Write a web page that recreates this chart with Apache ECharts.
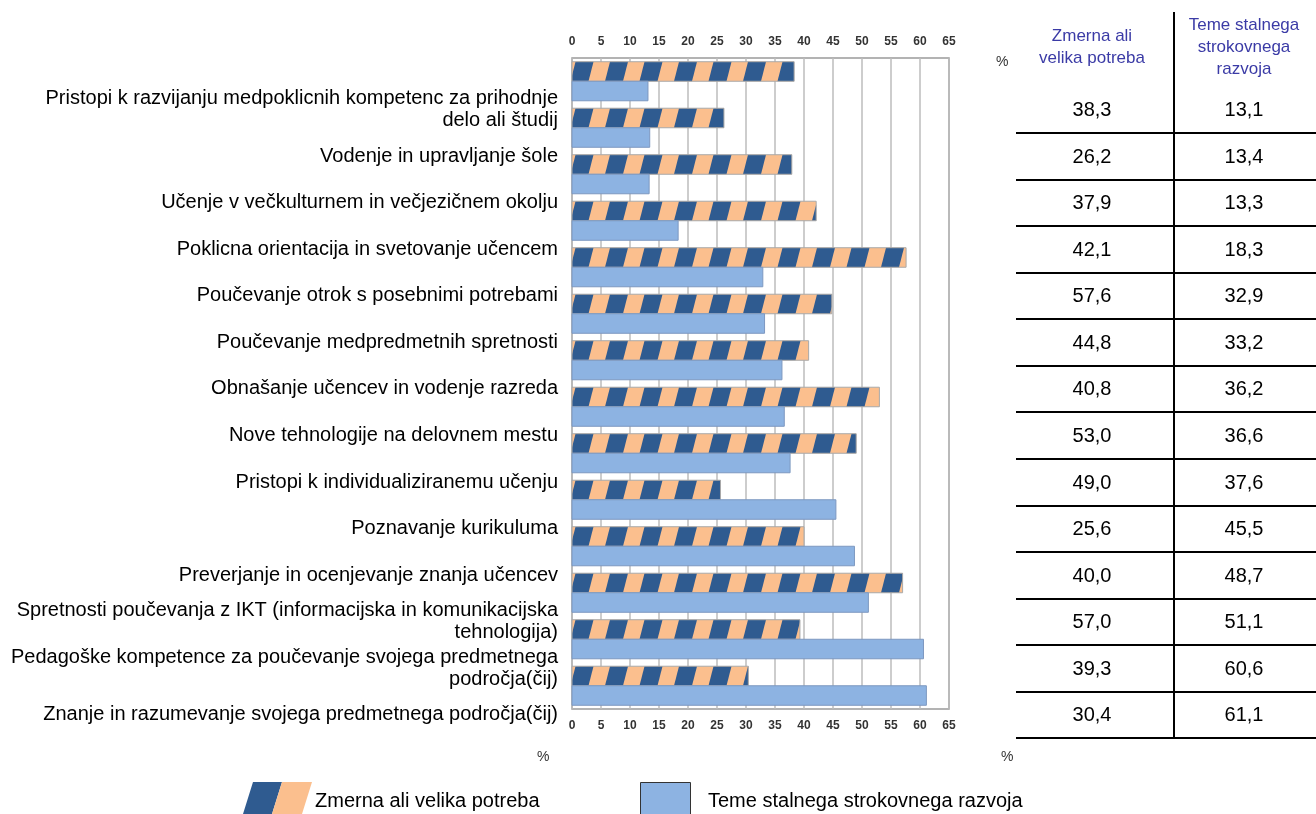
<!DOCTYPE html>
<html><head><meta charset="utf-8">
<script src="https://cdn.jsdelivr.net/npm/echarts@6/dist/echarts.min.js"></script>
<style>html,body{margin:0;padding:0;background:#fff}#c{width:1316px;height:814px}</style>
</head><body><div id="c"></div>
<script>
const categories = [
  'Pristopi k razvijanju medpoklicnih kompetenc za prihodnje\ndelo ali študij',
  'Vodenje in upravljanje šole',
  'Učenje v večkulturnem in večjezičnem okolju',
  'Poklicna orientacija in svetovanje učencem',
  'Poučevanje otrok s posebnimi potrebami',
  'Poučevanje medpredmetnih spretnosti',
  'Obnašanje učencev in vodenje razreda',
  'Nove tehnologije na delovnem mestu',
  'Pristopi k individualiziranemu učenju',
  'Poznavanje kurikuluma',
  'Preverjanje in ocenjevanje znanja učencev',
  'Spretnosti poučevanja z IKT (informacijska in komunikacijska\ntehnologija)',
  'Pedagoške kompetence za poučevanje svojega predmetnega\npodročja(čij)',
  'Znanje in razumevanje svojega predmetnega področja(čij)'
];
const needValues  = [38.3, 26.2, 37.9, 42.1, 57.6, 44.8, 40.8, 53.0, 49.0, 25.6, 40.0, 57.0, 39.3, 30.4];
const topicValues = [13.1, 13.4, 13.3, 18.3, 32.9, 33.2, 36.2, 36.6, 37.6, 45.5, 48.7, 51.1, 60.6, 61.1];
const seriesNames = ['Zmerna ali velika potreba', 'Teme stalnega strokovnega razvoja'];
const tableHeaders = ['Zmerna ali\nvelika potreba', 'Teme stalnega\nstrokovnega\nrazvoja'];
const axisMin = 0, axisMax = 65, axisStep = 5;
const unitLabel = '%';

const FONT = '"Liberation Sans", Arial, sans-serif';
const DARK = '#2f5b90', PEACH = '#fbbf8e', BLUE = '#8db3e2';

function fmt(v) { return v.toFixed(1).replace('.', ','); }

function clipX(pts, xe, keepGreater) {
  const out = [];
  for (let k = 0; k < pts.length; k++) {
    const a = pts[k], b = pts[(k + 1) % pts.length];
    const ina = keepGreater ? a[0] >= xe : a[0] <= xe;
    const inb = keepGreater ? b[0] >= xe : b[0] <= xe;
    if (ina) out.push(a);
    if (ina !== inb) {
      const t = (xe - a[0]) / (b[0] - a[0]);
      out.push([xe, a[1] + t * (b[1] - a[1])]);
    }
  }
  return out;
}

function renderNeed(params, api) {
  const v = api.value(0), i = api.value(1);
  const p0 = api.coord([0, i]), p1 = api.coord([v, i]);
  const band = api.size([0, 1])[1];
  const h = band * 0.42;
  const yb = p0[1], yt = p0[1] - h;
  const x0 = p0[0], x1 = p1[0];
  const children = [{ type: 'rect', shape: { x: x0, y: yt, width: x1 - x0, height: h }, style: { fill: PEACH } }];
  const P = 34.5, W = 18, S = 5;
  for (let bx = x0 - 1.5; bx < x1; bx += P) {
    let pts = [[bx, yb], [bx + W, yb], [bx + W + S, yt], [bx + S, yt]];
    pts = clipX(pts, x0, true); if (pts.length < 3) continue;
    pts = clipX(pts, x1, false); if (pts.length < 3) continue;
    children.push({ type: 'polygon', shape: { points: pts }, style: { fill: DARK } });
  }
  children.push({ type: 'rect', shape: { x: x0, y: yt, width: x1 - x0, height: h }, style: { fill: 'none', stroke: '#a9a9a9', lineWidth: 1 } });
  return { type: 'group', children };
}

function renderTopic(params, api) {
  const v = api.value(0), i = api.value(1);
  const p0 = api.coord([0, i]), p1 = api.coord([v, i]);
  const band = api.size([0, 1])[1];
  const h = band * 0.42;
  return { type: 'rect', shape: { x: p0[0], y: p0[1], width: p1[0] - p0[0], height: h },
           style: { fill: BLUE, stroke: '#7d98c0', lineWidth: 1 } };
}

function renderCell(params, api) {
  const c = api.coord([api.value(0), api.value(1)]);
  return { type: 'text', x: c[0], y: c[1] + 1,
           style: { text: fmt(api.value(2)), fill: '#000', fontSize: 20, fontFamily: FONT, align: 'center', verticalAlign: 'middle' } };
}

const valueAxisBase = {
  gridIndex: 0, type: 'value', min: axisMin, max: axisMax, interval: axisStep,
  axisLine: { show: false }, axisTick: { show: false },
  axisLabel: { fontWeight: 'bold', fontSize: 12, color: '#333', fontFamily: FONT }
};

const chart = echarts.init(document.getElementById('c'));
chart.setOption({
  animation: false,
  backgroundColor: '#fff',
  textStyle: { fontFamily: FONT },
  grid: [
    { left: 572, top: 58, width: 377, height: 651, show: true, borderColor: '#9a9a9a', borderWidth: 1.5, outerBoundsMode: 'none' },
    { left: 1016, top: 86.5, width: 304, height: 651.5, outerBoundsMode: 'none' }
  ],
  xAxis: [
    Object.assign({}, valueAxisBase, { position: 'top',
      axisLabel: Object.assign({}, valueAxisBase.axisLabel, { margin: 10 }),
      splitLine: { show: true, lineStyle: { color: '#bdbdbd', width: 1.5 } } }),
    Object.assign({}, valueAxisBase, { position: 'bottom',
      axisLabel: Object.assign({}, valueAxisBase.axisLabel, { margin: 11 }),
      splitLine: { show: false } }),
    { gridIndex: 1, type: 'category', position: 'top', data: tableHeaders,
      axisLine: { show: false }, axisTick: { show: false }, splitLine: { show: false },
      axisLabel: { interval: 0, color: '#3b3ba6', fontSize: 17, lineHeight: 22, verticalAlign: 'middle', margin: 39, fontFamily: FONT } }
  ],
  yAxis: [
    { gridIndex: 0, type: 'category', inverse: true, data: categories,
      axisLine: { show: false }, axisTick: { show: false }, axisLabel: { show: false }, splitLine: { show: false } },
    { gridIndex: 1, type: 'category', inverse: true, data: categories,
      axisLine: { show: false }, axisTick: { show: false },
      axisLabel: { interval: 0, margin: 458, fontSize: 20, lineHeight: 22, color: '#000', align: 'right', fontFamily: FONT },
      splitLine: { show: true, interval: function (idx) { return idx > 0; }, lineStyle: { color: '#000', width: 2 } } }
  ],
  series: [
    { type: 'custom', name: seriesNames[0], xAxisIndex: 0, yAxisIndex: 0, renderItem: renderNeed,
      encode: { x: 0, y: 1 }, data: needValues.map((v, i) => [v, i]), itemStyle: { color: DARK }, silent: true },
    { type: 'custom', name: seriesNames[1], xAxisIndex: 0, yAxisIndex: 0, renderItem: renderTopic,
      encode: { x: 0, y: 1 }, data: topicValues.map((v, i) => [v, i]), itemStyle: { color: BLUE }, silent: true },
    { type: 'custom', xAxisIndex: 2, yAxisIndex: 1, renderItem: renderCell, silent: true,
      encode: { x: 0, y: 1 }, data: needValues.map((v, i) => [0, i, v]) },
    { type: 'custom', xAxisIndex: 2, yAxisIndex: 1, renderItem: renderCell, silent: true,
      encode: { x: 0, y: 1 }, data: topicValues.map((v, i) => [1, i, v]) }
  ],
  graphic: [
    { type: 'line', shape: { x1: 1174, y1: 12, x2: 1174, y2: 738 }, style: { stroke: '#000', lineWidth: 2 } },
    { type: 'text', left: 996, top: 55, style: { text: unitLabel, fontSize: 14, fill: '#333', fontFamily: FONT } },
    { type: 'text', left: 537, top: 750, style: { text: unitLabel, fontSize: 14, fill: '#333', fontFamily: FONT } },
    { type: 'text', left: 1001, top: 750, style: { text: unitLabel, fontSize: 14, fill: '#333', fontFamily: FONT } },
    { type: 'polygon', shape: { points: [[243, 814], [272, 814], [282, 782], [253, 782]] }, style: { fill: DARK } },
    { type: 'polygon', shape: { points: [[272, 814], [302, 814], [312, 782], [282, 782]] }, style: { fill: PEACH } },
    { type: 'text', left: 315, top: 791, style: { text: seriesNames[0], fontSize: 20, fill: '#000', fontFamily: FONT } },
    { type: 'rect', shape: { x: 640.5, y: 782.5, width: 50, height: 34 }, style: { fill: BLUE, stroke: '#333', lineWidth: 1 } },
    { type: 'text', left: 708, top: 791, style: { text: seriesNames[1], fontSize: 20, fill: '#000', fontFamily: FONT } }
  ]
});
</script></body></html>
